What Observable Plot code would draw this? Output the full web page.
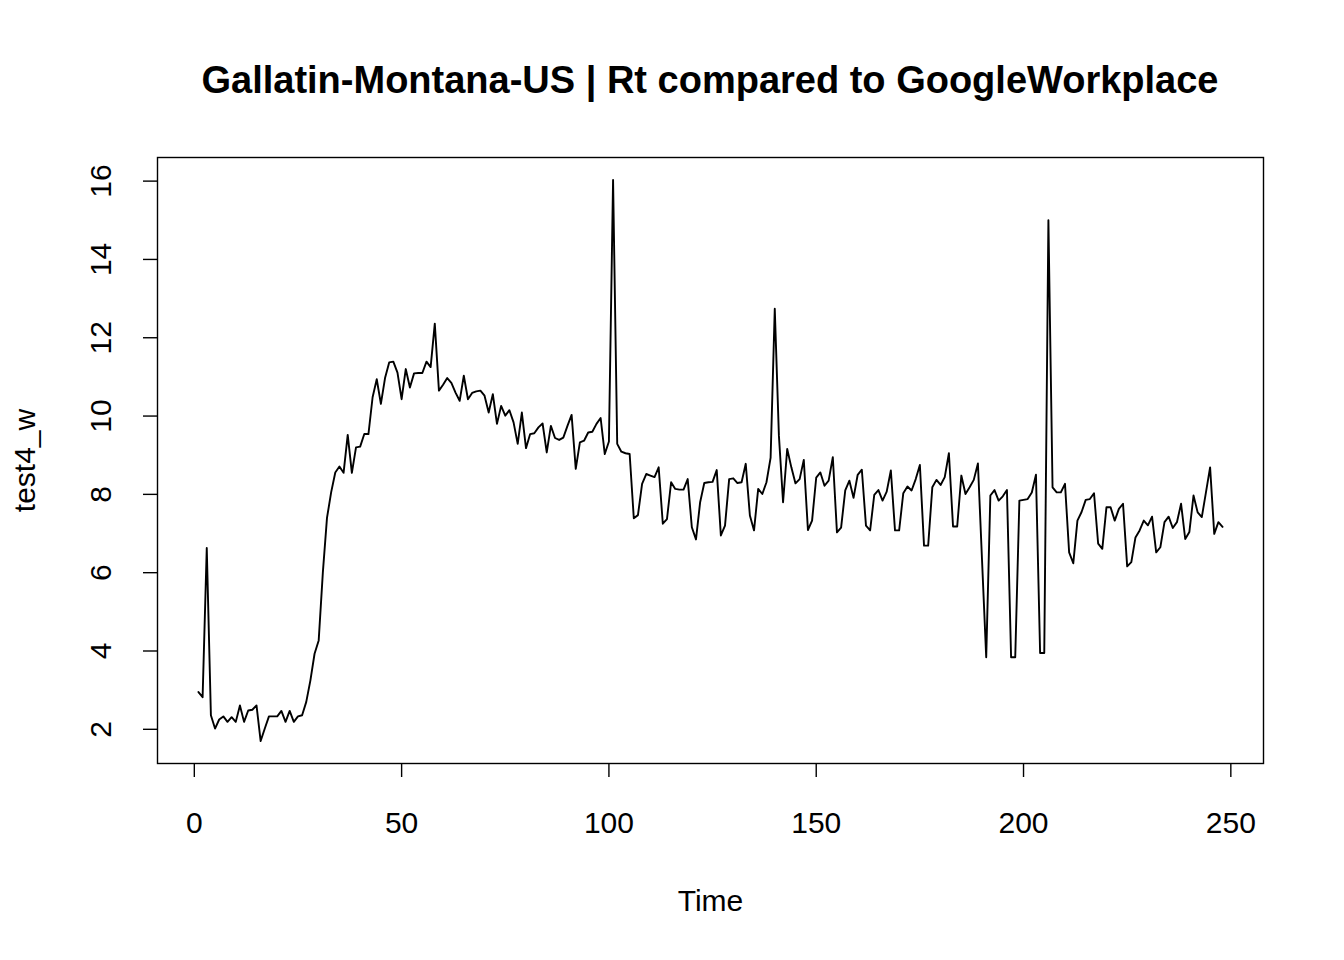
<!DOCTYPE html>
<html>
<head>
<meta charset="utf-8">
<script src="https://cdn.jsdelivr.net/npm/d3@7"></script>
<script src="https://cdn.jsdelivr.net/npm/@observablehq/plot@0.6"></script>
<style>
  html, body { margin: 0; padding: 0; background: white; }
  #wrap { position: relative; width: 1344px; height: 960px; background: white; font-family: "Liberation Sans", Arial, sans-serif; }
  #title { position: absolute; left: 157px; width: 1106px; top: 0; height: 120px; line-height: 160px; text-align: center; font-weight: bold; font-size: 38px; color: black; }
  #chart { position: absolute; left: 0; top: 120px; }
</style>
</head>
<body>
<div id="wrap">
  <div id="title">Gallatin-Montana-US | Rt compared to GoogleWorkplace</div>
  <div id="chart"></div>
</div>
<script>
const titleText = "Gallatin-Montana-US | Rt compared to GoogleWorkplace";
const xLabel = "Time";
const yLabel = "test4_w";
const xTicks = [0, 50, 100, 150, 200, 250];
const yTicks = [2, 4, 6, 8, 10, 12, 14, 16];

const values = [
  2.95, 2.82, 6.63, 2.36, 2.02, 2.25, 2.33, 2.19, 2.31, 2.19,
  2.61, 2.19, 2.48, 2.50, 2.61, 1.70, 2.02, 2.33, 2.33, 2.33,
  2.47, 2.19, 2.47, 2.19, 2.33, 2.36, 2.70, 3.25, 3.93, 4.27,
  6.00, 7.40, 8.05, 8.56, 8.71, 8.55, 9.52, 8.55, 9.20, 9.22,
  9.54, 9.54, 10.48, 10.94, 10.31, 10.97, 11.37, 11.39, 11.11, 10.43,
  11.20, 10.73, 11.09, 11.10, 11.10, 11.39, 11.25, 12.36, 10.65, 10.80,
  10.97, 10.85, 10.60, 10.39, 11.03, 10.43, 10.59, 10.63, 10.65, 10.52,
  10.09, 10.56, 9.80, 10.26, 10.01, 10.15, 9.84, 9.29, 10.09, 9.18,
  9.54, 9.56, 9.71, 9.81, 9.07, 9.75, 9.44, 9.39, 9.45, 9.75,
  10.03, 8.65, 9.33, 9.37, 9.58, 9.60, 9.80, 9.95, 9.03, 9.35,
  16.03, 9.29, 9.09, 9.05, 9.03, 7.39, 7.47, 8.27, 8.52, 8.48,
  8.44, 8.69, 7.25, 7.37, 8.31, 8.14, 8.12, 8.12, 8.39, 7.16,
  6.85, 7.80, 8.29, 8.31, 8.32, 8.62, 6.95, 7.20, 8.39, 8.41,
  8.29, 8.31, 8.78, 7.46, 7.08, 8.14, 8.01, 8.31, 8.94, 12.74,
  9.50, 7.80, 9.16, 8.69, 8.28, 8.39, 8.88, 7.09, 7.33, 8.43,
  8.56, 8.22, 8.35, 8.95, 7.03, 7.15, 8.10, 8.35, 7.91, 8.50,
  8.63, 7.20, 7.08, 7.99, 8.11, 7.84, 8.07, 8.61, 7.08, 7.08,
  8.03, 8.20, 8.10, 8.39, 8.75, 6.69, 6.69, 8.18, 8.37, 8.24,
  8.44, 9.05, 7.18, 7.18, 8.48, 8.01, 8.18, 8.37, 8.79, 6.30,
  3.84, 7.97, 8.11, 7.84, 7.95, 8.11, 3.84, 3.84, 7.84, 7.86,
  7.88, 8.05, 8.50, 3.95, 3.95, 15.00, 8.18, 8.05, 8.05, 8.27,
  6.52, 6.24, 7.33, 7.55, 7.86, 7.88, 8.03, 6.74, 6.61, 7.67,
  7.67, 7.33, 7.63, 7.76, 6.16, 6.27, 6.90, 7.08, 7.33, 7.21,
  7.43, 6.52, 6.65, 7.29, 7.43, 7.14, 7.29, 7.76, 6.86, 7.04,
  7.97, 7.54, 7.42, 8.05, 8.69, 6.99, 7.29, 7.17
];

const times = values.map((_, i) => i + 1);
const data = values.map((v, i) => ({t: times[i], v}));

// R-style 4% axis expansion
const [tMin, tMax] = d3.extent(times);
const [vMin, vMax] = d3.extent(values);
const tPad = (tMax - tMin) * 0.04;
const vPad = (vMax - vMin) * 0.04;

document.getElementById("title").textContent = titleText;

const chart = Plot.plot({
  width: 1344,
  height: 840,
  marginTop: 37,
  marginBottom: 197,
  marginLeft: 157,
  marginRight: 81,
  style: {fontFamily: "'Liberation Sans', Arial, sans-serif", fontSize: "30px", color: "black", background: "white"},
  x: {domain: [tMin - tPad, tMax + tPad]},
  y: {domain: [vMin - vPad, vMax + vPad]},
  marks: [
    Plot.frame({stroke: "black", strokeWidth: 1.4}),
    Plot.axisX(xTicks, {tickSize: 14, tickPadding: 34, fontSize: 30, strokeWidth: 1.4, label: null}),
    Plot.axisY(yTicks, {tickSize: 14, tickPadding: 33, tickRotate: -90, fontSize: 30, strokeWidth: 1.4, label: null}),
    Plot.line(data, {x: "t", y: "v", stroke: "black", strokeWidth: 1.9}),
    Plot.text([xLabel], {frameAnchor: "bottom", dy: 147, fontSize: 30}),
    Plot.text([yLabel], {frameAnchor: "left", dx: -132, rotate: -90, textAnchor: "middle", fontSize: 30})
  ]
});
document.getElementById("chart").appendChild(chart);
</script>
</body>
</html>
